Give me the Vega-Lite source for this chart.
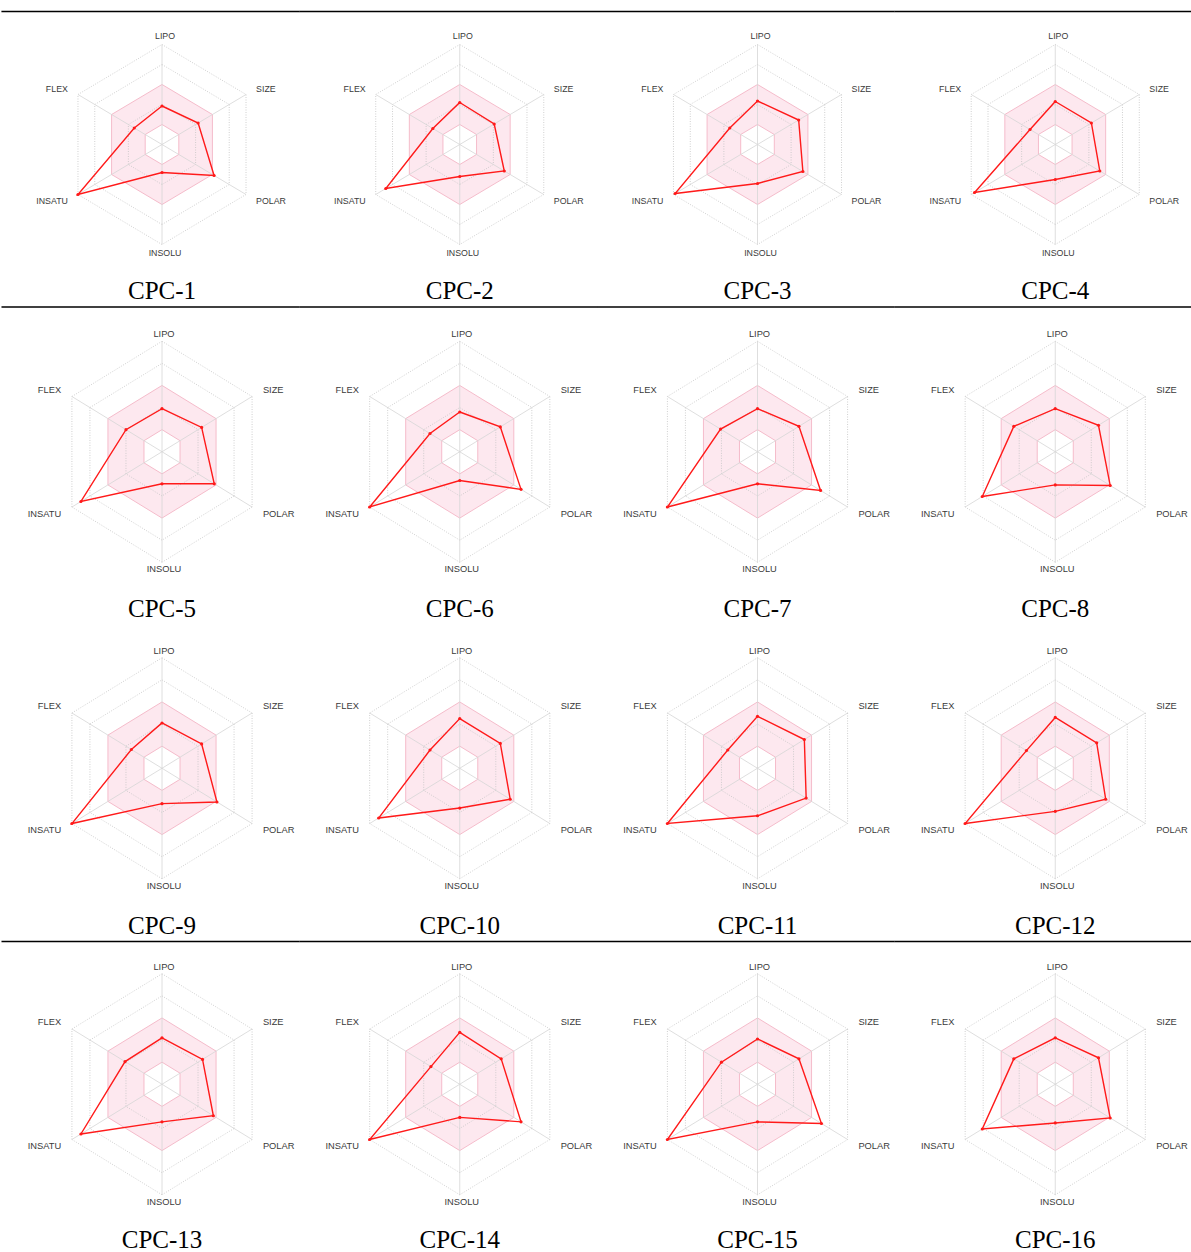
{
  "$schema": "https://vega.github.io/schema/vega-lite/v6.json",
  "padding": {"left": 0, "top": 10.5, "right": 0, "bottom": 0},
  "background": "white",
  "spacing": 1.5,
  "config": {"view": {"stroke": null}},
  "datasets": {
    "axes": [
      {"k": 0, "axis": "LIPO"}, {"k": 1, "axis": "SIZE"}, {"k": 2, "axis": "POLAR"},
      {"k": 3, "axis": "INSOLU"}, {"k": 4, "axis": "INSATU"}, {"k": 5, "axis": "FLEX"}
    ],
    "grid": [
      {"lvl": 0.2, "k": 0}, {"lvl": 0.2, "k": 1}, {"lvl": 0.2, "k": 2}, {"lvl": 0.2, "k": 3}, {"lvl": 0.2, "k": 4}, {"lvl": 0.2, "k": 5},
      {"lvl": 0.4, "k": 0}, {"lvl": 0.4, "k": 1}, {"lvl": 0.4, "k": 2}, {"lvl": 0.4, "k": 3}, {"lvl": 0.4, "k": 4}, {"lvl": 0.4, "k": 5},
      {"lvl": 0.6, "k": 0}, {"lvl": 0.6, "k": 1}, {"lvl": 0.6, "k": 2}, {"lvl": 0.6, "k": 3}, {"lvl": 0.6, "k": 4}, {"lvl": 0.6, "k": 5},
      {"lvl": 0.8, "k": 0}, {"lvl": 0.8, "k": 1}, {"lvl": 0.8, "k": 2}, {"lvl": 0.8, "k": 3}, {"lvl": 0.8, "k": 4}, {"lvl": 0.8, "k": 5},
      {"lvl": 1.0, "k": 0}, {"lvl": 1.0, "k": 1}, {"lvl": 1.0, "k": 2}, {"lvl": 1.0, "k": 3}, {"lvl": 1.0, "k": 4}, {"lvl": 1.0, "k": 5}
    ],
    "scores": [
      {"cpc": "CPC-1", "k": 0, "axis": "LIPO", "v": 0.385}, {"cpc": "CPC-1", "k": 1, "axis": "SIZE", "v": 0.43}, {"cpc": "CPC-1", "k": 2, "axis": "POLAR", "v": 0.62}, {"cpc": "CPC-1", "k": 3, "axis": "INSOLU", "v": 0.28}, {"cpc": "CPC-1", "k": 4, "axis": "INSATU", "v": 1.0}, {"cpc": "CPC-1", "k": 5, "axis": "FLEX", "v": 0.33},
      {"cpc": "CPC-2", "k": 0, "axis": "LIPO", "v": 0.42}, {"cpc": "CPC-2", "k": 1, "axis": "SIZE", "v": 0.41}, {"cpc": "CPC-2", "k": 2, "axis": "POLAR", "v": 0.53}, {"cpc": "CPC-2", "k": 3, "axis": "INSOLU", "v": 0.32}, {"cpc": "CPC-2", "k": 4, "axis": "INSATU", "v": 0.88}, {"cpc": "CPC-2", "k": 5, "axis": "FLEX", "v": 0.32},
      {"cpc": "CPC-3", "k": 0, "axis": "LIPO", "v": 0.435}, {"cpc": "CPC-3", "k": 1, "axis": "SIZE", "v": 0.49}, {"cpc": "CPC-3", "k": 2, "axis": "POLAR", "v": 0.54}, {"cpc": "CPC-3", "k": 3, "axis": "INSOLU", "v": 0.39}, {"cpc": "CPC-3", "k": 4, "axis": "INSATU", "v": 0.98}, {"cpc": "CPC-3", "k": 5, "axis": "FLEX", "v": 0.33},
      {"cpc": "CPC-4", "k": 0, "axis": "LIPO", "v": 0.43}, {"cpc": "CPC-4", "k": 1, "axis": "SIZE", "v": 0.43}, {"cpc": "CPC-4", "k": 2, "axis": "POLAR", "v": 0.53}, {"cpc": "CPC-4", "k": 3, "axis": "INSOLU", "v": 0.35}, {"cpc": "CPC-4", "k": 4, "axis": "INSATU", "v": 0.96}, {"cpc": "CPC-4", "k": 5, "axis": "FLEX", "v": 0.30},
      {"cpc": "CPC-5", "k": 0, "axis": "LIPO", "v": 0.39}, {"cpc": "CPC-5", "k": 1, "axis": "SIZE", "v": 0.44}, {"cpc": "CPC-5", "k": 2, "axis": "POLAR", "v": 0.58}, {"cpc": "CPC-5", "k": 3, "axis": "INSOLU", "v": 0.29}, {"cpc": "CPC-5", "k": 4, "axis": "INSATU", "v": 0.90}, {"cpc": "CPC-5", "k": 5, "axis": "FLEX", "v": 0.40},
      {"cpc": "CPC-6", "k": 0, "axis": "LIPO", "v": 0.36}, {"cpc": "CPC-6", "k": 1, "axis": "SIZE", "v": 0.45}, {"cpc": "CPC-6", "k": 2, "axis": "POLAR", "v": 0.68}, {"cpc": "CPC-6", "k": 3, "axis": "INSOLU", "v": 0.26}, {"cpc": "CPC-6", "k": 4, "axis": "INSATU", "v": 1.0}, {"cpc": "CPC-6", "k": 5, "axis": "FLEX", "v": 0.33},
      {"cpc": "CPC-7", "k": 0, "axis": "LIPO", "v": 0.39}, {"cpc": "CPC-7", "k": 1, "axis": "SIZE", "v": 0.46}, {"cpc": "CPC-7", "k": 2, "axis": "POLAR", "v": 0.70}, {"cpc": "CPC-7", "k": 3, "axis": "INSOLU", "v": 0.29}, {"cpc": "CPC-7", "k": 4, "axis": "INSATU", "v": 1.0}, {"cpc": "CPC-7", "k": 5, "axis": "FLEX", "v": 0.41},
      {"cpc": "CPC-8", "k": 0, "axis": "LIPO", "v": 0.39}, {"cpc": "CPC-8", "k": 1, "axis": "SIZE", "v": 0.48}, {"cpc": "CPC-8", "k": 2, "axis": "POLAR", "v": 0.61}, {"cpc": "CPC-8", "k": 3, "axis": "INSOLU", "v": 0.30}, {"cpc": "CPC-8", "k": 4, "axis": "INSATU", "v": 0.81}, {"cpc": "CPC-8", "k": 5, "axis": "FLEX", "v": 0.46},
      {"cpc": "CPC-9", "k": 0, "axis": "LIPO", "v": 0.41}, {"cpc": "CPC-9", "k": 1, "axis": "SIZE", "v": 0.44}, {"cpc": "CPC-9", "k": 2, "axis": "POLAR", "v": 0.61}, {"cpc": "CPC-9", "k": 3, "axis": "INSOLU", "v": 0.32}, {"cpc": "CPC-9", "k": 4, "axis": "INSATU", "v": 1.0}, {"cpc": "CPC-9", "k": 5, "axis": "FLEX", "v": 0.34},
      {"cpc": "CPC-10", "k": 0, "axis": "LIPO", "v": 0.45}, {"cpc": "CPC-10", "k": 1, "axis": "SIZE", "v": 0.45}, {"cpc": "CPC-10", "k": 2, "axis": "POLAR", "v": 0.56}, {"cpc": "CPC-10", "k": 3, "axis": "INSOLU", "v": 0.36}, {"cpc": "CPC-10", "k": 4, "axis": "INSATU", "v": 0.90}, {"cpc": "CPC-10", "k": 5, "axis": "FLEX", "v": 0.33},
      {"cpc": "CPC-11", "k": 0, "axis": "LIPO", "v": 0.47}, {"cpc": "CPC-11", "k": 1, "axis": "SIZE", "v": 0.52}, {"cpc": "CPC-11", "k": 2, "axis": "POLAR", "v": 0.54}, {"cpc": "CPC-11", "k": 3, "axis": "INSOLU", "v": 0.43}, {"cpc": "CPC-11", "k": 4, "axis": "INSATU", "v": 1.0}, {"cpc": "CPC-11", "k": 5, "axis": "FLEX", "v": 0.33},
      {"cpc": "CPC-12", "k": 0, "axis": "LIPO", "v": 0.46}, {"cpc": "CPC-12", "k": 1, "axis": "SIZE", "v": 0.46}, {"cpc": "CPC-12", "k": 2, "axis": "POLAR", "v": 0.56}, {"cpc": "CPC-12", "k": 3, "axis": "INSOLU", "v": 0.39}, {"cpc": "CPC-12", "k": 4, "axis": "INSATU", "v": 1.0}, {"cpc": "CPC-12", "k": 5, "axis": "FLEX", "v": 0.32},
      {"cpc": "CPC-13", "k": 0, "axis": "LIPO", "v": 0.42}, {"cpc": "CPC-13", "k": 1, "axis": "SIZE", "v": 0.45}, {"cpc": "CPC-13", "k": 2, "axis": "POLAR", "v": 0.57}, {"cpc": "CPC-13", "k": 3, "axis": "INSOLU", "v": 0.34}, {"cpc": "CPC-13", "k": 4, "axis": "INSATU", "v": 0.90}, {"cpc": "CPC-13", "k": 5, "axis": "FLEX", "v": 0.41},
      {"cpc": "CPC-14", "k": 0, "axis": "LIPO", "v": 0.47}, {"cpc": "CPC-14", "k": 1, "axis": "SIZE", "v": 0.46}, {"cpc": "CPC-14", "k": 2, "axis": "POLAR", "v": 0.68}, {"cpc": "CPC-14", "k": 3, "axis": "INSOLU", "v": 0.30}, {"cpc": "CPC-14", "k": 4, "axis": "INSATU", "v": 1.0}, {"cpc": "CPC-14", "k": 5, "axis": "FLEX", "v": 0.32},
      {"cpc": "CPC-15", "k": 0, "axis": "LIPO", "v": 0.41}, {"cpc": "CPC-15", "k": 1, "axis": "SIZE", "v": 0.46}, {"cpc": "CPC-15", "k": 2, "axis": "POLAR", "v": 0.71}, {"cpc": "CPC-15", "k": 3, "axis": "INSOLU", "v": 0.34}, {"cpc": "CPC-15", "k": 4, "axis": "INSATU", "v": 1.0}, {"cpc": "CPC-15", "k": 5, "axis": "FLEX", "v": 0.40},
      {"cpc": "CPC-16", "k": 0, "axis": "LIPO", "v": 0.42}, {"cpc": "CPC-16", "k": 1, "axis": "SIZE", "v": 0.48}, {"cpc": "CPC-16", "k": 2, "axis": "POLAR", "v": 0.61}, {"cpc": "CPC-16", "k": 3, "axis": "INSOLU", "v": 0.35}, {"cpc": "CPC-16", "k": 4, "axis": "INSATU", "v": 0.81}, {"cpc": "CPC-16", "k": 5, "axis": "FLEX", "v": 0.46}
    ]
  },
  "vconcat": [
    {
      "data": {"name": "scores"},
      "transform": [{"filter": {"field": "cpc", "oneOf": ["CPC-1", "CPC-2", "CPC-3", "CPC-4"]}}],
      "facet": {"field": "cpc", "type": "nominal", "sort": ["CPC-1", "CPC-2", "CPC-3", "CPC-4"],
        "header": {"title": null, "labelOrient": "bottom", "labelBaseline": "top", "labelPadding": 5, "labelFont": "Liberation Serif", "labelFontSize": 25, "labelColor": "#000000"}},
      "columns": 4,
      "spacing": {"column": 23.75, "row": 0},
      "bounds": "flush",
      "spec": {
        "width": 274,
        "height": 262.5,
        "layer": [
          {
            "data": {"name": "grid"},
            "transform": [{"filter": "datum.lvl == 0.6"}, {"calculate": "datum.lvl*sin(datum.k*PI/3)", "as": "x"}, {"calculate": "datum.lvl*cos(datum.k*PI/3)", "as": "y"}],
            "mark": {"type": "line", "interpolate": "linear-closed", "filled": true, "fill": "#fde8ef", "stroke": "#f5bccb", "strokeWidth": 1},
            "encoding": {
              "x": {"field": "x", "type": "quantitative", "scale": {"domain": [-1.412, 1.412], "nice": false, "zero": false}, "axis": null},
              "y": {"field": "y", "type": "quantitative", "scale": {"domain": [-1.295, 1.33], "nice": false, "zero": false}, "axis": null},
              "order": {"field": "k", "type": "quantitative"}}
          },
          {
            "data": {"name": "grid"},
            "transform": [{"filter": "datum.lvl == 0.2"}, {"calculate": "datum.lvl*sin(datum.k*PI/3)", "as": "x"}, {"calculate": "datum.lvl*cos(datum.k*PI/3)", "as": "y"}],
            "mark": {"type": "line", "interpolate": "linear-closed", "filled": true, "fill": "#ffffff", "stroke": "#f5bccb", "strokeWidth": 1},
            "encoding": {
              "x": {"field": "x", "type": "quantitative", "scale": {"domain": [-1.412, 1.412], "nice": false, "zero": false}, "axis": null},
              "y": {"field": "y", "type": "quantitative", "scale": {"domain": [-1.295, 1.33], "nice": false, "zero": false}, "axis": null},
              "order": {"field": "k", "type": "quantitative"}}
          },
          {
            "data": {"name": "grid"},
            "transform": [{"filter": "datum.lvl != 0.2 && datum.lvl != 0.6"}, {"calculate": "datum.lvl*sin(datum.k*PI/3)", "as": "x"}, {"calculate": "datum.lvl*cos(datum.k*PI/3)", "as": "y"}, {"calculate": "datum.lvl*sin((datum.k+1)*PI/3)", "as": "x2"}, {"calculate": "datum.lvl*cos((datum.k+1)*PI/3)", "as": "y2"}],
            "mark": {"type": "rule", "stroke": "#c4c4c4", "strokeWidth": 0.8, "strokeDash": [1, 1.5]},
            "encoding": {
              "x": {"field": "x", "type": "quantitative", "scale": {"domain": [-1.412, 1.412], "nice": false, "zero": false}, "axis": null},
              "y": {"field": "y", "type": "quantitative", "scale": {"domain": [-1.295, 1.33], "nice": false, "zero": false}, "axis": null},
              "x2": {"field": "x2"}, "y2": {"field": "y2"}}
          },
          {
            "data": {"name": "axes"},
            "transform": [{"calculate": "sin(datum.k*PI/3)", "as": "x"}, {"calculate": "cos(datum.k*PI/3)", "as": "y"}],
            "mark": {"type": "rule", "stroke": "#d6d6d6", "strokeWidth": 0.8},
            "encoding": {
              "x": {"field": "x", "type": "quantitative", "scale": {"domain": [-1.412, 1.412], "nice": false, "zero": false}, "axis": null},
              "y": {"field": "y", "type": "quantitative", "scale": {"domain": [-1.295, 1.33], "nice": false, "zero": false}, "axis": null},
              "x2": {"datum": 0}, "y2": {"datum": 0}}
          },
          {
            "transform": [{"calculate": "datum.v*sin(datum.k*PI/3)", "as": "x"}, {"calculate": "datum.v*cos(datum.k*PI/3)", "as": "y"}],
            "mark": {"type": "line", "interpolate": "linear-closed", "stroke": "#ff1a1a", "strokeWidth": 1.4},
            "encoding": {
              "x": {"field": "x", "type": "quantitative", "scale": {"domain": [-1.412, 1.412], "nice": false, "zero": false}, "axis": null},
              "y": {"field": "y", "type": "quantitative", "scale": {"domain": [-1.295, 1.33], "nice": false, "zero": false}, "axis": null},
              "order": {"field": "k", "type": "quantitative"}}
          },
          {
            "transform": [{"calculate": "datum.v*sin(datum.k*PI/3)", "as": "x"}, {"calculate": "datum.v*cos(datum.k*PI/3)", "as": "y"}],
            "mark": {"type": "circle", "size": 10, "color": "#ff1a1a", "opacity": 1},
            "encoding": {
              "x": {"field": "x", "type": "quantitative", "scale": {"domain": [-1.412, 1.412], "nice": false, "zero": false}, "axis": null},
              "y": {"field": "y", "type": "quantitative", "scale": {"domain": [-1.295, 1.33], "nice": false, "zero": false}, "axis": null}}
          },
          {
            "data": {"name": "axes"},
            "transform": [{"filter": "datum.k == 1 || datum.k == 2"}, {"calculate": "1.12*sin(datum.k*PI/3)", "as": "x"}, {"calculate": "1.12*cos(datum.k*PI/3)", "as": "y"}],
            "mark": {"type": "text", "align": "left", "baseline": "middle", "font": "Liberation Sans", "fontSize": 8.8, "fill": "#3a3a3a"},
            "encoding": {
              "x": {"field": "x", "type": "quantitative", "scale": {"domain": [-1.412, 1.412], "nice": false, "zero": false}, "axis": null},
              "y": {"field": "y", "type": "quantitative", "scale": {"domain": [-1.295, 1.33], "nice": false, "zero": false}, "axis": null},
              "text": {"field": "axis"}}
          },
          {
            "data": {"name": "axes"},
            "transform": [{"filter": "datum.k == 4 || datum.k == 5"}, {"calculate": "1.12*sin(datum.k*PI/3)", "as": "x"}, {"calculate": "1.12*cos(datum.k*PI/3)", "as": "y"}],
            "mark": {"type": "text", "align": "right", "baseline": "middle", "font": "Liberation Sans", "fontSize": 8.8, "fill": "#3a3a3a"},
            "encoding": {
              "x": {"field": "x", "type": "quantitative", "scale": {"domain": [-1.412, 1.412], "nice": false, "zero": false}, "axis": null},
              "y": {"field": "y", "type": "quantitative", "scale": {"domain": [-1.295, 1.33], "nice": false, "zero": false}, "axis": null},
              "text": {"field": "axis"}}
          },
          {
            "data": {"name": "axes"},
            "transform": [{"filter": "datum.k == 0 || datum.k == 3"}, {"calculate": "1.085*sin(datum.k*PI/3)", "as": "x"}, {"calculate": "1.085*cos(datum.k*PI/3)", "as": "y"}],
            "mark": {"type": "text", "align": "center", "baseline": "middle", "dx": 3, "font": "Liberation Sans", "fontSize": 8.8, "fill": "#3a3a3a"},
            "encoding": {
              "x": {"field": "x", "type": "quantitative", "scale": {"domain": [-1.412, 1.412], "nice": false, "zero": false}, "axis": null},
              "y": {"field": "y", "type": "quantitative", "scale": {"domain": [-1.295, 1.33], "nice": false, "zero": false}, "axis": null},
              "text": {"field": "axis"}}
          },
          {
            "data": {"name": "axes"},
            "transform": [{"filter": "datum.k == 0"}],
            "mark": {"type": "rule", "stroke": "#000000", "strokeWidth": 1.3},
            "encoding": {"x": {"datum": -1.655}, "x2": {"datum": 1.415}, "y": {"datum": 1.33}}
          }
        ]
      }
    },
    {
      "data": {"name": "scores"},
      "transform": [{"filter": {"field": "cpc", "oneOf": ["CPC-5", "CPC-6", "CPC-7", "CPC-8", "CPC-9", "CPC-10", "CPC-11", "CPC-12"]}}],
      "facet": {"field": "cpc", "type": "nominal", "sort": ["CPC-5", "CPC-6", "CPC-7", "CPC-8", "CPC-9", "CPC-10", "CPC-11", "CPC-12"],
        "header": {"title": null, "labelOrient": "bottom", "labelBaseline": "top", "labelPadding": 5, "labelFont": "Liberation Serif", "labelFontSize": 25, "labelColor": "#000000"}},
      "columns": 4,
      "spacing": {"column": 23.75, "row": 31.5},
      "bounds": "flush",
      "spec": {
        "width": 274,
        "height": 285,
        "layer": [
          {
            "data": {"name": "grid"},
            "transform": [{"filter": "datum.lvl == 0.6"}, {"calculate": "datum.lvl*sin(datum.k*PI/3)", "as": "x"}, {"calculate": "datum.lvl*cos(datum.k*PI/3)", "as": "y"}],
            "mark": {"type": "line", "interpolate": "linear-closed", "filled": true, "fill": "#fde8ef", "stroke": "#f5bccb", "strokeWidth": 1},
            "encoding": {
              "x": {"field": "x", "type": "quantitative", "scale": {"domain": [-1.317, 1.317], "nice": false, "zero": false}, "axis": null},
              "y": {"field": "y", "type": "quantitative", "scale": {"domain": [-1.269, 1.31], "nice": false, "zero": false}, "axis": null},
              "order": {"field": "k", "type": "quantitative"}}
          },
          {
            "data": {"name": "grid"},
            "transform": [{"filter": "datum.lvl == 0.2"}, {"calculate": "datum.lvl*sin(datum.k*PI/3)", "as": "x"}, {"calculate": "datum.lvl*cos(datum.k*PI/3)", "as": "y"}],
            "mark": {"type": "line", "interpolate": "linear-closed", "filled": true, "fill": "#ffffff", "stroke": "#f5bccb", "strokeWidth": 1},
            "encoding": {
              "x": {"field": "x", "type": "quantitative", "scale": {"domain": [-1.317, 1.317], "nice": false, "zero": false}, "axis": null},
              "y": {"field": "y", "type": "quantitative", "scale": {"domain": [-1.269, 1.31], "nice": false, "zero": false}, "axis": null},
              "order": {"field": "k", "type": "quantitative"}}
          },
          {
            "data": {"name": "grid"},
            "transform": [{"filter": "datum.lvl != 0.2 && datum.lvl != 0.6"}, {"calculate": "datum.lvl*sin(datum.k*PI/3)", "as": "x"}, {"calculate": "datum.lvl*cos(datum.k*PI/3)", "as": "y"}, {"calculate": "datum.lvl*sin((datum.k+1)*PI/3)", "as": "x2"}, {"calculate": "datum.lvl*cos((datum.k+1)*PI/3)", "as": "y2"}],
            "mark": {"type": "rule", "stroke": "#c4c4c4", "strokeWidth": 0.8, "strokeDash": [1, 1.5]},
            "encoding": {
              "x": {"field": "x", "type": "quantitative", "scale": {"domain": [-1.317, 1.317], "nice": false, "zero": false}, "axis": null},
              "y": {"field": "y", "type": "quantitative", "scale": {"domain": [-1.269, 1.31], "nice": false, "zero": false}, "axis": null},
              "x2": {"field": "x2"}, "y2": {"field": "y2"}}
          },
          {
            "data": {"name": "axes"},
            "transform": [{"calculate": "sin(datum.k*PI/3)", "as": "x"}, {"calculate": "cos(datum.k*PI/3)", "as": "y"}],
            "mark": {"type": "rule", "stroke": "#d6d6d6", "strokeWidth": 0.8},
            "encoding": {
              "x": {"field": "x", "type": "quantitative", "scale": {"domain": [-1.317, 1.317], "nice": false, "zero": false}, "axis": null},
              "y": {"field": "y", "type": "quantitative", "scale": {"domain": [-1.269, 1.31], "nice": false, "zero": false}, "axis": null},
              "x2": {"datum": 0}, "y2": {"datum": 0}}
          },
          {
            "transform": [{"calculate": "datum.v*sin(datum.k*PI/3)", "as": "x"}, {"calculate": "datum.v*cos(datum.k*PI/3)", "as": "y"}],
            "mark": {"type": "line", "interpolate": "linear-closed", "stroke": "#ff1a1a", "strokeWidth": 1.4},
            "encoding": {
              "x": {"field": "x", "type": "quantitative", "scale": {"domain": [-1.317, 1.317], "nice": false, "zero": false}, "axis": null},
              "y": {"field": "y", "type": "quantitative", "scale": {"domain": [-1.269, 1.31], "nice": false, "zero": false}, "axis": null},
              "order": {"field": "k", "type": "quantitative"}}
          },
          {
            "transform": [{"calculate": "datum.v*sin(datum.k*PI/3)", "as": "x"}, {"calculate": "datum.v*cos(datum.k*PI/3)", "as": "y"}],
            "mark": {"type": "circle", "size": 10, "color": "#ff1a1a", "opacity": 1},
            "encoding": {
              "x": {"field": "x", "type": "quantitative", "scale": {"domain": [-1.317, 1.317], "nice": false, "zero": false}, "axis": null},
              "y": {"field": "y", "type": "quantitative", "scale": {"domain": [-1.269, 1.31], "nice": false, "zero": false}, "axis": null}}
          },
          {
            "data": {"name": "axes"},
            "transform": [{"filter": "datum.k == 1 || datum.k == 2"}, {"calculate": "1.12*sin(datum.k*PI/3)", "as": "x"}, {"calculate": "1.12*cos(datum.k*PI/3)", "as": "y"}],
            "mark": {"type": "text", "align": "left", "baseline": "middle", "font": "Liberation Sans", "fontSize": 9.3, "fill": "#3a3a3a"},
            "encoding": {
              "x": {"field": "x", "type": "quantitative", "scale": {"domain": [-1.317, 1.317], "nice": false, "zero": false}, "axis": null},
              "y": {"field": "y", "type": "quantitative", "scale": {"domain": [-1.269, 1.31], "nice": false, "zero": false}, "axis": null},
              "text": {"field": "axis"}}
          },
          {
            "data": {"name": "axes"},
            "transform": [{"filter": "datum.k == 4 || datum.k == 5"}, {"calculate": "1.12*sin(datum.k*PI/3)", "as": "x"}, {"calculate": "1.12*cos(datum.k*PI/3)", "as": "y"}],
            "mark": {"type": "text", "align": "right", "baseline": "middle", "font": "Liberation Sans", "fontSize": 9.3, "fill": "#3a3a3a"},
            "encoding": {
              "x": {"field": "x", "type": "quantitative", "scale": {"domain": [-1.317, 1.317], "nice": false, "zero": false}, "axis": null},
              "y": {"field": "y", "type": "quantitative", "scale": {"domain": [-1.269, 1.31], "nice": false, "zero": false}, "axis": null},
              "text": {"field": "axis"}}
          },
          {
            "data": {"name": "axes"},
            "transform": [{"filter": "datum.k == 0 || datum.k == 3"}, {"calculate": "1.065*sin(datum.k*PI/3)", "as": "x"}, {"calculate": "1.065*cos(datum.k*PI/3)", "as": "y"}],
            "mark": {"type": "text", "align": "center", "baseline": "middle", "dx": 2, "font": "Liberation Sans", "fontSize": 9.3, "fill": "#3a3a3a"},
            "encoding": {
              "x": {"field": "x", "type": "quantitative", "scale": {"domain": [-1.317, 1.317], "nice": false, "zero": false}, "axis": null},
              "y": {"field": "y", "type": "quantitative", "scale": {"domain": [-1.269, 1.31], "nice": false, "zero": false}, "axis": null},
              "text": {"field": "axis"}}
          },
          {
            "transform": [{"filter": "datum.k == 0"}, {"filter": {"field": "cpc", "oneOf": ["CPC-5", "CPC-6", "CPC-7", "CPC-8"]}}],
            "mark": {"type": "rule", "stroke": "#000000", "strokeWidth": 1.3},
            "encoding": {"x": {"datum": -1.543}, "x2": {"datum": 1.32}, "y": {"datum": 1.31}}
          }
        ]
      }
    },
    {
      "data": {"name": "scores"},
      "transform": [{"filter": {"field": "cpc", "oneOf": ["CPC-13", "CPC-14", "CPC-15", "CPC-16"]}}],
      "facet": {"field": "cpc", "type": "nominal", "sort": ["CPC-13", "CPC-14", "CPC-15", "CPC-16"],
        "header": {"title": null, "labelOrient": "bottom", "labelBaseline": "top", "labelPadding": 5, "labelFont": "Liberation Serif", "labelFontSize": 25, "labelColor": "#000000"}},
      "columns": 4,
      "spacing": {"column": 23.75, "row": 0},
      "bounds": "flush",
      "spec": {
        "width": 274,
        "height": 281,
        "layer": [
          {
            "data": {"name": "grid"},
            "transform": [{"filter": "datum.lvl == 0.6"}, {"calculate": "datum.lvl*sin(datum.k*PI/3)", "as": "x"}, {"calculate": "datum.lvl*cos(datum.k*PI/3)", "as": "y"}],
            "mark": {"type": "line", "interpolate": "linear-closed", "filled": true, "fill": "#fde8ef", "stroke": "#f5bccb", "strokeWidth": 1},
            "encoding": {
              "x": {"field": "x", "type": "quantitative", "scale": {"domain": [-1.317, 1.317], "nice": false, "zero": false}, "axis": null},
              "y": {"field": "y", "type": "quantitative", "scale": {"domain": [-1.251, 1.292], "nice": false, "zero": false}, "axis": null},
              "order": {"field": "k", "type": "quantitative"}}
          },
          {
            "data": {"name": "grid"},
            "transform": [{"filter": "datum.lvl == 0.2"}, {"calculate": "datum.lvl*sin(datum.k*PI/3)", "as": "x"}, {"calculate": "datum.lvl*cos(datum.k*PI/3)", "as": "y"}],
            "mark": {"type": "line", "interpolate": "linear-closed", "filled": true, "fill": "#ffffff", "stroke": "#f5bccb", "strokeWidth": 1},
            "encoding": {
              "x": {"field": "x", "type": "quantitative", "scale": {"domain": [-1.317, 1.317], "nice": false, "zero": false}, "axis": null},
              "y": {"field": "y", "type": "quantitative", "scale": {"domain": [-1.251, 1.292], "nice": false, "zero": false}, "axis": null},
              "order": {"field": "k", "type": "quantitative"}}
          },
          {
            "data": {"name": "grid"},
            "transform": [{"filter": "datum.lvl != 0.2 && datum.lvl != 0.6"}, {"calculate": "datum.lvl*sin(datum.k*PI/3)", "as": "x"}, {"calculate": "datum.lvl*cos(datum.k*PI/3)", "as": "y"}, {"calculate": "datum.lvl*sin((datum.k+1)*PI/3)", "as": "x2"}, {"calculate": "datum.lvl*cos((datum.k+1)*PI/3)", "as": "y2"}],
            "mark": {"type": "rule", "stroke": "#c4c4c4", "strokeWidth": 0.8, "strokeDash": [1, 1.5]},
            "encoding": {
              "x": {"field": "x", "type": "quantitative", "scale": {"domain": [-1.317, 1.317], "nice": false, "zero": false}, "axis": null},
              "y": {"field": "y", "type": "quantitative", "scale": {"domain": [-1.251, 1.292], "nice": false, "zero": false}, "axis": null},
              "x2": {"field": "x2"}, "y2": {"field": "y2"}}
          },
          {
            "data": {"name": "axes"},
            "transform": [{"calculate": "sin(datum.k*PI/3)", "as": "x"}, {"calculate": "cos(datum.k*PI/3)", "as": "y"}],
            "mark": {"type": "rule", "stroke": "#d6d6d6", "strokeWidth": 0.8},
            "encoding": {
              "x": {"field": "x", "type": "quantitative", "scale": {"domain": [-1.317, 1.317], "nice": false, "zero": false}, "axis": null},
              "y": {"field": "y", "type": "quantitative", "scale": {"domain": [-1.251, 1.292], "nice": false, "zero": false}, "axis": null},
              "x2": {"datum": 0}, "y2": {"datum": 0}}
          },
          {
            "transform": [{"calculate": "datum.v*sin(datum.k*PI/3)", "as": "x"}, {"calculate": "datum.v*cos(datum.k*PI/3)", "as": "y"}],
            "mark": {"type": "line", "interpolate": "linear-closed", "stroke": "#ff1a1a", "strokeWidth": 1.4},
            "encoding": {
              "x": {"field": "x", "type": "quantitative", "scale": {"domain": [-1.317, 1.317], "nice": false, "zero": false}, "axis": null},
              "y": {"field": "y", "type": "quantitative", "scale": {"domain": [-1.251, 1.292], "nice": false, "zero": false}, "axis": null},
              "order": {"field": "k", "type": "quantitative"}}
          },
          {
            "transform": [{"calculate": "datum.v*sin(datum.k*PI/3)", "as": "x"}, {"calculate": "datum.v*cos(datum.k*PI/3)", "as": "y"}],
            "mark": {"type": "circle", "size": 10, "color": "#ff1a1a", "opacity": 1},
            "encoding": {
              "x": {"field": "x", "type": "quantitative", "scale": {"domain": [-1.317, 1.317], "nice": false, "zero": false}, "axis": null},
              "y": {"field": "y", "type": "quantitative", "scale": {"domain": [-1.251, 1.292], "nice": false, "zero": false}, "axis": null}}
          },
          {
            "data": {"name": "axes"},
            "transform": [{"filter": "datum.k == 1 || datum.k == 2"}, {"calculate": "1.12*sin(datum.k*PI/3)", "as": "x"}, {"calculate": "1.12*cos(datum.k*PI/3)", "as": "y"}],
            "mark": {"type": "text", "align": "left", "baseline": "middle", "font": "Liberation Sans", "fontSize": 9.3, "fill": "#3a3a3a"},
            "encoding": {
              "x": {"field": "x", "type": "quantitative", "scale": {"domain": [-1.317, 1.317], "nice": false, "zero": false}, "axis": null},
              "y": {"field": "y", "type": "quantitative", "scale": {"domain": [-1.251, 1.292], "nice": false, "zero": false}, "axis": null},
              "text": {"field": "axis"}}
          },
          {
            "data": {"name": "axes"},
            "transform": [{"filter": "datum.k == 4 || datum.k == 5"}, {"calculate": "1.12*sin(datum.k*PI/3)", "as": "x"}, {"calculate": "1.12*cos(datum.k*PI/3)", "as": "y"}],
            "mark": {"type": "text", "align": "right", "baseline": "middle", "font": "Liberation Sans", "fontSize": 9.3, "fill": "#3a3a3a"},
            "encoding": {
              "x": {"field": "x", "type": "quantitative", "scale": {"domain": [-1.317, 1.317], "nice": false, "zero": false}, "axis": null},
              "y": {"field": "y", "type": "quantitative", "scale": {"domain": [-1.251, 1.292], "nice": false, "zero": false}, "axis": null},
              "text": {"field": "axis"}}
          },
          {
            "data": {"name": "axes"},
            "transform": [{"filter": "datum.k == 0 || datum.k == 3"}, {"calculate": "1.065*sin(datum.k*PI/3)", "as": "x"}, {"calculate": "1.065*cos(datum.k*PI/3)", "as": "y"}],
            "mark": {"type": "text", "align": "center", "baseline": "middle", "dx": 2, "font": "Liberation Sans", "fontSize": 9.3, "fill": "#3a3a3a"},
            "encoding": {
              "x": {"field": "x", "type": "quantitative", "scale": {"domain": [-1.317, 1.317], "nice": false, "zero": false}, "axis": null},
              "y": {"field": "y", "type": "quantitative", "scale": {"domain": [-1.251, 1.292], "nice": false, "zero": false}, "axis": null},
              "text": {"field": "axis"}}
          },
          {
            "data": {"name": "axes"},
            "transform": [{"filter": "datum.k == 0"}],
            "mark": {"type": "rule", "stroke": "#000000", "strokeWidth": 1.3},
            "encoding": {"x": {"datum": -1.543}, "x2": {"datum": 1.32}, "y": {"datum": 1.292}}
          }
        ]
      }
    }
  ]
}
